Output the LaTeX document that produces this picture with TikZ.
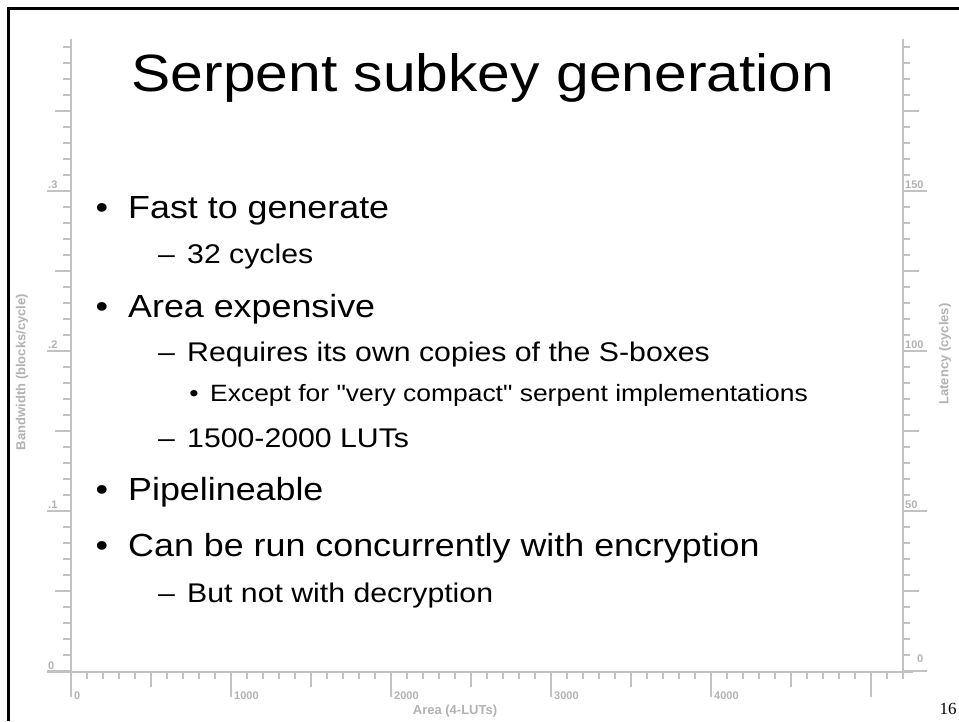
\documentclass[tikz,border=0pt]{standalone}
\usepackage{fontspec}
\setmainfont{Liberation Sans}
\newfontfamily\slidefont[FakeStretch=1.12]{Liberation Sans}
\newfontfamily\pagefont{Liberation Serif}
\definecolor{axisline}{RGB}{194,194,194}
\definecolor{axistext}{RGB}{178,178,178}

\begin{document}
\begin{tikzpicture}[x=1pt,y=-1pt,
  axis/.style={draw=axisline,line width=1.6pt},
  tickmark/.style={draw=axisline,line width=1.3pt},
  ticklabel/.style={text=axistext,font=\bfseries\fontsize{11}{11}\selectfont,inner sep=0pt},
  axistitle/.style={text=axistext,font=\bfseries\fontsize{13}{13}\selectfont,inner sep=0pt},
  slidetitle/.style={font=\slidefont\fontsize{52.5}{52.5}\selectfont,inner sep=0pt,anchor=base},
  levelone/.style={font=\slidefont\fontsize{32}{32}\selectfont,inner sep=0pt,anchor=base west},
  leveltwo/.style={font=\slidefont\fontsize{27}{27}\selectfont,inner sep=0pt,anchor=base west},
  levelthree/.style={font=\slidefont\fontsize{23.6}{23.6}\selectfont,inner sep=0pt,anchor=base west},
]
\useasboundingbox (0,0) rectangle (959,721);
\fill[white] (0,0) rectangle (959,721);

% slide frame (clipped at right and bottom)
\draw[line width=3pt] (8,721) -- (8,8) -- (959,8);

% axes
\draw[axis] (71,39) -- (71,672);
\draw[axis] (903,39) -- (903,678);
\draw[axis] (47,672) -- (913,672);

% left axis ticks
\foreach \k in {0,...,39}{
  \pgfmathsetmacro{\len}{ifthenelse(mod(\k,10)==0,24,ifthenelse(mod(\k,5)==0,16,8))}
  \draw[tickmark] (71,{671-16*\k}) -- ++(-\len,0);
}
% right axis ticks
\foreach \k in {0,...,39}{
  \pgfmathsetmacro{\len}{ifthenelse(mod(\k,10)==0,24,ifthenelse(mod(\k,5)==0,16,7))}
  \draw[tickmark] (903,{671-16*\k}) -- ++(\len,0);
}
% bottom axis ticks
\foreach \k in {0,...,52}{
  \pgfmathsetmacro{\len}{ifthenelse(mod(\k,10)==0,25,ifthenelse(mod(\k,5)==0,15,7))}
  \draw[tickmark] ({71+16*\k},672) -- ++(0,\len);
}

% tick labels
\node[ticklabel,anchor=base west] (l3) at (48,188) {.3};
\node[ticklabel,anchor=base west] (l2) at (48,348) {.2};
\node[ticklabel,anchor=base west] (l1) at (48,508) {.1};
\node[ticklabel,anchor=base west] (l0) at (48,669) {0};
\node[ticklabel,anchor=base west] (r150) at (905,188) {150};
\node[ticklabel,anchor=base west] (r100) at (905,348) {100};
\node[ticklabel,anchor=base west] (r50) at (905,508) {50};
\node[ticklabel,anchor=base west] (r0) at (917,662) {0};
\node[ticklabel,anchor=base west] (b0) at (74,699) {0};
\node[ticklabel,anchor=base west] (b1) at (234,699) {1000};
\node[ticklabel,anchor=base west] (b2) at (394,699) {2000};
\node[ticklabel,anchor=base west] (b3) at (554,699) {3000};
\node[ticklabel,anchor=base west] (b4) at (714,699) {4000};

% axis titles
\node[axistitle] (xtitle) at (455,711) {Area (4-LUTs)};
\node[axistitle,rotate=90] (ytitle) at (22,372) {Bandwidth (blocks/cycle)};
\node[axistitle,rotate=90] (rtitle) at (945,354) {Latency (cycles)};

% slide title
\node[slidetitle] (title) at (483,91) {Serpent subkey generation};

% bullet list
\node[levelone,anchor=base] (b1m) at (102,218) {•};
\node[levelone] (t1) at (128,218) {Fast to generate};
\node[leveltwo] (d1m) at (158,263) {–};
\node[leveltwo] (t2) at (187,263) {32 cycles};
\node[levelone,anchor=base] (b2m) at (102,317) {•};
\node[levelone] (t3) at (128,317) {Area expensive};
\node[leveltwo] (d2m) at (158,361) {–};
\node[leveltwo] (t4) at (187,361) {Requires its own copies of the S-boxes};
\node[levelthree,anchor=base] (b3m) at (194,401) {•};
\node[levelthree] (t5) at (210,401) {Except for "very compact" serpent implementations};
\node[leveltwo] (d3m) at (158,447) {–};
\node[leveltwo] (t6) at (187,447) {1500-2000 LUTs};
\node[levelone,anchor=base] (b4m) at (102,500) {•};
\node[levelone] (t7) at (128,500) {Pipelineable};
\node[levelone,anchor=base] (b5m) at (102,556) {•};
\node[levelone] (t8) at (128,556) {Can be run concurrently with encryption};
\node[leveltwo] (d4m) at (158,602) {–};
\node[leveltwo] (t9) at (187,602) {But not with decryption};

% page number
\node[font=\pagefont\fontsize{17}{17}\selectfont,inner sep=0pt,anchor=base] (pagenum) at (948,714) {16};
\end{tikzpicture}
\end{document}
